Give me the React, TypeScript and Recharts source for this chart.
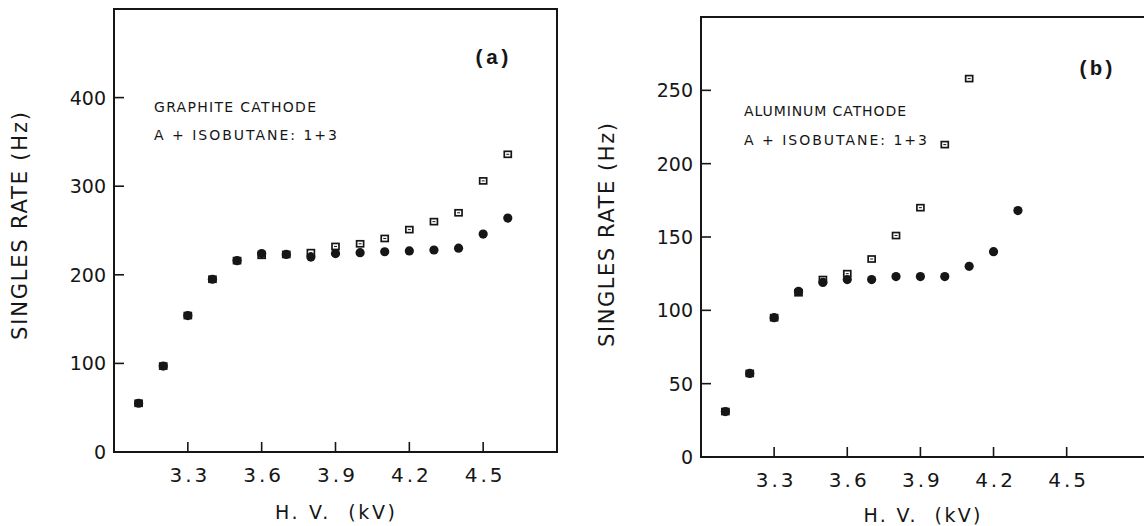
import { ScatterChart, Scatter, XAxis, YAxis, ReferenceArea } from 'recharts';

// H.V. settings (kV) for each measured point
const HV_A = [3.1, 3.2, 3.3, 3.4, 3.5, 3.6, 3.7, 3.8, 3.9, 4.0, 4.1, 4.2, 4.3, 4.4, 4.5, 4.6];
const GRAPHITE_DOTS = [55, 97, 154, 195, 216, 224, 223, 220, 224, 225, 226, 227, 228, 230, 246, 264];
const GRAPHITE_SQUARES = [55, 97, 154, 195, 216, 222, 223, 225, 232, 235, 241, 251, 260, 270, 306, 336];

const HV_B_DOTS = [3.1, 3.2, 3.3, 3.4, 3.5, 3.6, 3.7, 3.8, 3.9, 4.0, 4.1, 4.2, 4.3];
const ALUMINUM_DOTS = [31, 57, 95, 113, 119, 121, 121, 123, 123, 123, 130, 140, 168];
const HV_B_SQUARES = [3.1, 3.2, 3.3, 3.4, 3.5, 3.6, 3.7, 3.8, 3.9, 4.0, 4.1];
const ALUMINUM_SQUARES = [31, 57, 95, 112, 121, 125, 135, 151, 170, 213, 258];

const X_TICKS = [3.3, 3.6, 3.9, 4.2, 4.5];
const Y_TICKS_A = [0, 100, 200, 300, 400];
const Y_TICKS_B = [0, 50, 100, 150, 200, 250];

const INK = '#161616';
const PLOT_FONT = '"DejaVu Sans", sans-serif';

const toPoints = (xs: number[], ys: number[]) => xs.map((hv, i) => ({ hv, rate: ys[i] }));

const Dot = ({ cx, cy }: any) => <circle cx={cx} cy={cy} r={4.6} fill={INK} />;

const Square = ({ cx, cy }: any) => (
  <g>
    <rect x={cx - 3.5} y={cy - 3} width={7} height={6} fill="#fff" stroke={INK} strokeWidth={1.7} />
    <line x1={cx - 1.5} x2={cx + 1.5} y1={cy} y2={cy} stroke={INK} strokeWidth={1} />
  </g>
);

const Y_MARGIN = 8;
const X_MARGIN = 4;

function YTick({ x, y, payload }: any) {
  const ax = x + Y_MARGIN;
  return (
    <g>
      <line x1={ax} x2={ax + 10} y1={y} y2={y} stroke={INK} strokeWidth={1.6} />
      <text x={x} y={y + 7} textAnchor="end" fontFamily={PLOT_FONT} fontSize={19} fill={INK}>
        {payload.value}
      </text>
    </g>
  );
}

function XTick({ x, y, payload }: any) {
  const ay = y - X_MARGIN;
  return (
    <g>
      <line x1={x} x2={x} y1={ay} y2={ay - 10} stroke={INK} strokeWidth={1.6} />
      <text
        x={x + 2}
        y={ay + 30}
        textAnchor="middle"
        fontFamily={PLOT_FONT}
        fontSize={20}
        letterSpacing={3}
        fill={INK}
      >
        {payload.value.toFixed(1)}
      </text>
    </g>
  );
}

interface PanelProps {
  left: number;
  width: number;
  margin: { top: number; right: number; bottom: number; left: number };
  xMax: number;
  yMax: number;
  yTicks: number[];
  dots: { hv: number; rate: number }[];
  squares: { hv: number; rate: number }[];
}

function Panel({ left, width, margin, xMax, yMax, yTicks, dots, squares }: PanelProps) {
  return (
    <div style={{ position: 'absolute', left, top: 0 }}>
      <ScatterChart width={width} height={526} margin={margin}>
        <XAxis
          type="number"
          dataKey="hv"
          domain={[3.0, xMax]}
          ticks={X_TICKS}
          axisLine={false}
          tickLine={false}
          tickSize={0}
          tickMargin={X_MARGIN}
          height={40}
          tick={XTick}
          allowDataOverflow
        />
        <YAxis
          type="number"
          dataKey="rate"
          domain={[0, yMax]}
          ticks={yTicks}
          axisLine={false}
          tickLine={false}
          tickSize={0}
          tickMargin={Y_MARGIN}
          width={60}
          tick={YTick}
          allowDataOverflow
        />
        <ReferenceArea x1={3.0} x2={xMax} y1={0} y2={yMax} fill="none" stroke={INK} strokeWidth={2} />
        <Scatter data={squares} shape={Square} isAnimationActive={false} />
        <Scatter data={dots} shape={Dot} isAnimationActive={false} />
      </ScatterChart>
    </div>
  );
}

export default function App() {
  return (
    <div
      style={{
        position: 'absolute',
        left: 0,
        top: 0,
        width: 1144,
        height: 526,
        background: '#fff',
        overflow: 'hidden',
      }}
    >
      <Panel
        left={0}
        width={580}
        margin={{ top: 9, right: 23, bottom: 34, left: 54 }}
        xMax={4.8}
        yMax={500}
        yTicks={Y_TICKS_A}
        dots={toPoints(HV_A, GRAPHITE_DOTS)}
        squares={toPoints(HV_A, GRAPHITE_SQUARES)}
      />
      {/* right panel runs past the page edge, as in the cropped original */}
      <Panel
        left={580}
        width={574}
        margin={{ top: 17, right: 2, bottom: 29, left: 61 }}
        xMax={4.85}
        yMax={300}
        yTicks={Y_TICKS_B}
        dots={toPoints(HV_B_DOTS, ALUMINUM_DOTS)}
        squares={toPoints(HV_B_SQUARES, ALUMINUM_SQUARES)}
      />
      <svg
        width={1144}
        height={526}
        style={{ position: 'absolute', left: 0, top: 0, pointerEvents: 'none' }}
        fontFamily={PLOT_FONT}
        fill={INK}
      >
        <text transform="translate(27 226) rotate(-90)" textAnchor="middle" fontSize={21} textLength={228} lengthAdjust="spacing">
          SINGLES RATE (Hz)
        </text>
        <text transform="translate(614 235) rotate(-90)" textAnchor="middle" fontSize={21} textLength={224} lengthAdjust="spacing">
          SINGLES RATE (Hz)
        </text>
        <text x={335} y={519} textAnchor="middle" fontSize={19} textLength={120} lengthAdjust="spacing" style={{ whiteSpace: 'pre' }}>
          H. V.  (kV)
        </text>
        <text x={922} y={522} textAnchor="middle" fontSize={19} textLength={117} lengthAdjust="spacing" style={{ whiteSpace: 'pre' }}>
          H. V.  (kV)
        </text>
        <text x={154} y={112} fontSize={14} textLength={162} lengthAdjust="spacing">
          GRAPHITE CATHODE
        </text>
        <text x={154} y={140} fontSize={14} textLength={183} lengthAdjust="spacing">
          A + ISOBUTANE: 1+3
        </text>
        <text x={744} y={116} fontSize={14} textLength={162} lengthAdjust="spacing">
          ALUMINUM CATHODE
        </text>
        <text x={744} y={145} fontSize={14} textLength={183} lengthAdjust="spacing">
          A + ISOBUTANE: 1+3
        </text>
        <text x={492} y={64} textAnchor="middle" fontFamily='"Liberation Mono", monospace' fontSize={21} fontWeight="bold">
          (a)
        </text>
        <text x={1096} y={75} textAnchor="middle" fontFamily='"Liberation Mono", monospace' fontSize={21} fontWeight="bold">
          (b)
        </text>
      </svg>
    </div>
  );
}
